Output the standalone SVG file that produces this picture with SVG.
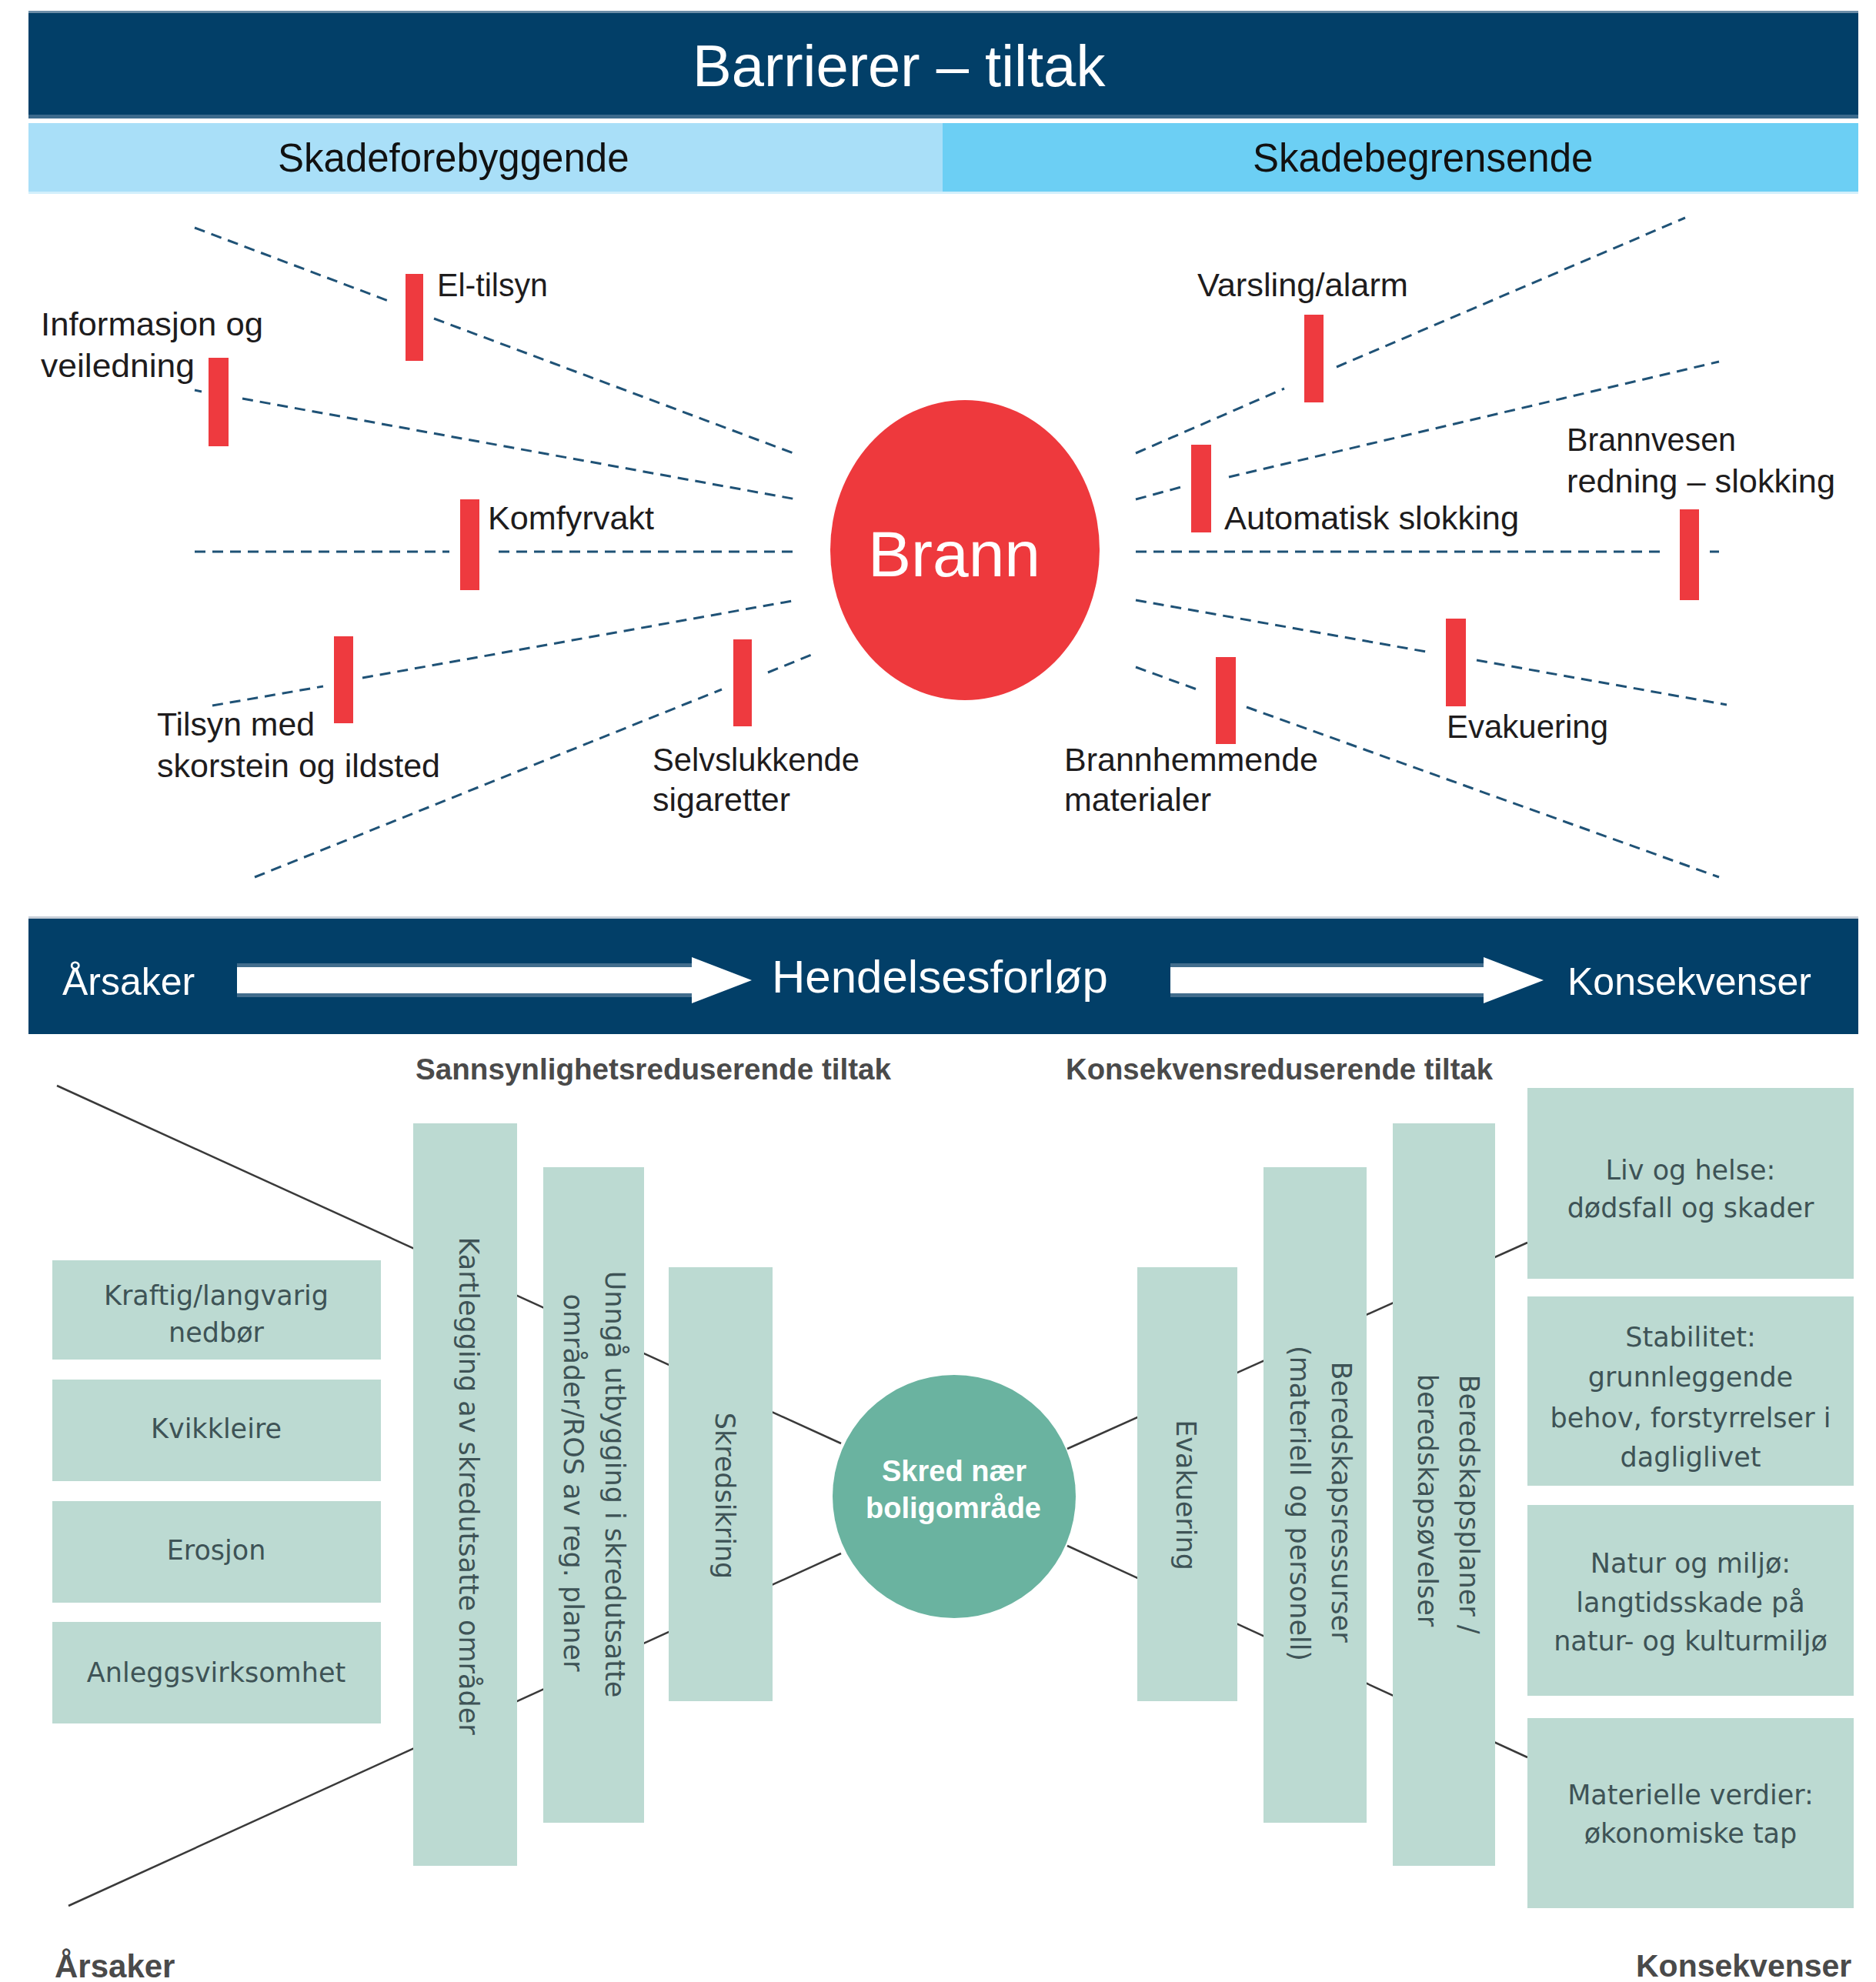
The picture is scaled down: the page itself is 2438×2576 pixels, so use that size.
<svg xmlns="http://www.w3.org/2000/svg" width="2438" height="2576" viewBox="0 0 2438 2576">
<style>
.navy{fill:#023f68}
.bar{fill:#ee3a3f}
.dash{stroke:#1f5276;stroke-width:3;stroke-dasharray:14 9;fill:none}
.lbl{font-family:"Liberation Sans",Arial,sans-serif;font-size:42px;fill:#1e1c1d}
.wt{font-family:"Liberation Sans",Arial,sans-serif;fill:#ffffff}
.hd{font-family:"Liberation Sans",Arial,sans-serif;font-size:51px;fill:#111111}
.box{fill:#bcdad2}
.bt{font-family:"DejaVu Sans",Verdana,sans-serif;font-size:35px;fill:#3e5356;text-anchor:middle}
.gh{font-family:"Liberation Sans",Arial,sans-serif;font-weight:bold;fill:#4a4a4a}
.ln{stroke:#3a3a3a;stroke-width:2.5;fill:none}
.arrow{fill:#ffffff}
.shade{fill:#426d8d}
</style>
<rect width="2438" height="2576" fill="#ffffff"/>

<g id="title">
  <rect class="navy" x="37" y="14" width="2378" height="140"/>
  <rect x="37" y="14" width="2378" height="3" fill="#6d8ea8"/>
  <rect x="37" y="149" width="2378" height="5" fill="#3c6a8c"/>
  <text class="wt" x="900" y="112" font-size="76">Barrierer – tiltak</text>
</g>
<g id="subheader">
  <rect x="37" y="160" width="1188" height="92" fill="#a9dff8"/>
  <rect x="1225" y="160" width="1190" height="92" fill="#6ccff4"/>
  <rect x="37" y="249" width="2378" height="3" fill="#d2effc"/>
  <text class="hd" x="361" y="223">Skadeforebyggende</text>
  <text class="hd" x="1628" y="223">Skadebegrensende</text>
</g>

<g id="fire-connectors">
  <path class="dash" d="M253,296 L510,393"/>
  <path class="dash" d="M564,414 L1031,589"/>
  <path class="dash" d="M253,507 L262,509"/>
  <path class="dash" d="M315,518 L1035,649"/>
  <path class="dash" d="M253,717 L584,717"/>
  <path class="dash" d="M648,717 L1035,717"/>
  <path class="dash" d="M276,917 L420,892"/>
  <path class="dash" d="M471,881 L1035,780"/>
  <path class="dash" d="M331,1140 L938,896"/>
  <path class="dash" d="M998,874 L1057,850"/>
  <path class="dash" d="M1476,589 L1669,505"/>
  <path class="dash" d="M1737,477 L2190,283"/>
  <path class="dash" d="M1476,649 L1535,633"/>
  <path class="dash" d="M1597,620 L2234,470"/>
  <path class="dash" d="M1476,717 L2159,717"/>
  <path class="dash" d="M2222,717 L2234,717"/>
  <path class="dash" d="M1476,780 L1853,847"/>
  <path class="dash" d="M1919,858 L2244,916"/>
  <path class="dash" d="M1476,867 L1558,897"/>
  <path class="dash" d="M1620,919 L2234,1140"/>
</g>

<g id="brann">
  <ellipse cx="1254" cy="715" rx="175" ry="195" fill="#ee393d"/>
  <text class="wt" x="1240" y="749" font-size="84" text-anchor="middle">Brann</text>
</g>

<g id="el-tilsyn">
  <rect class="bar" x="527" y="356" width="23" height="113"/>
  <text class="lbl" x="568" y="385" textLength="144" lengthAdjust="spacingAndGlyphs">El-tilsyn</text>
</g>
<g id="informasjon">
  <rect class="bar" x="271" y="465" width="26" height="115"/>
  <text class="lbl" x="53" y="436" textLength="289" lengthAdjust="spacingAndGlyphs">Informasjon og</text>
  <text class="lbl" x="53" y="490" textLength="200" lengthAdjust="spacingAndGlyphs">veiledning</text>
</g>
<g id="komfyrvakt">
  <rect class="bar" x="598" y="649" width="25" height="118"/>
  <text class="lbl" x="634" y="688" textLength="216" lengthAdjust="spacingAndGlyphs">Komfyrvakt</text>
</g>
<g id="tilsyn">
  <rect class="bar" x="434" y="827" width="25" height="113"/>
  <text class="lbl" x="204" y="956" textLength="205" lengthAdjust="spacingAndGlyphs">Tilsyn med</text>
  <text class="lbl" x="204" y="1010" textLength="368" lengthAdjust="spacingAndGlyphs">skorstein og ildsted</text>
</g>
<g id="selvslukkende">
  <rect class="bar" x="953" y="831" width="24" height="113"/>
  <text class="lbl" x="848" y="1002" textLength="269" lengthAdjust="spacingAndGlyphs">Selvslukkende</text>
  <text class="lbl" x="848" y="1054" textLength="179" lengthAdjust="spacingAndGlyphs">sigaretter</text>
</g>
<g id="varsling">
  <rect class="bar" x="1695" y="409" width="25" height="114"/>
  <text class="lbl" x="1556" y="385" textLength="274" lengthAdjust="spacingAndGlyphs">Varsling/alarm</text>
</g>
<g id="automatisk">
  <rect class="bar" x="1548" y="578" width="26" height="114"/>
  <text class="lbl" x="1591" y="688" textLength="383" lengthAdjust="spacingAndGlyphs">Automatisk slokking</text>
</g>
<g id="brannvesen">
  <rect class="bar" x="2183" y="662" width="25" height="118"/>
  <text class="lbl" x="2036" y="586" textLength="220" lengthAdjust="spacingAndGlyphs">Brannvesen</text>
  <text class="lbl" x="2036" y="640" textLength="349" lengthAdjust="spacingAndGlyphs">redning – slokking</text>
</g>
<g id="evakuering-brann">
  <rect class="bar" x="1879" y="804" width="26" height="114"/>
  <text class="lbl" x="1880" y="959" textLength="210" lengthAdjust="spacingAndGlyphs">Evakuering</text>
</g>
<g id="brannhemmende">
  <rect class="bar" x="1580" y="854" width="26" height="113"/>
  <text class="lbl" x="1383" y="1002" textLength="330" lengthAdjust="spacingAndGlyphs">Brannhemmende</text>
  <text class="lbl" x="1383" y="1054" textLength="191" lengthAdjust="spacingAndGlyphs">materialer</text>
</g>

<g id="band">
  <rect class="navy" x="37" y="1193" width="2378" height="151"/>
  <rect x="37" y="1191" width="2378" height="3" fill="#c6cdd7"/>
  <rect class="shade" x="308" y="1252" width="591" height="5"/>
  <rect class="shade" x="308" y="1291" width="591" height="5"/>
  <polygon class="arrow" points="308,1257 899,1257 899,1244 977,1274 899,1304 899,1291 308,1291"/>
  <rect class="shade" x="1521" y="1252" width="407" height="5"/>
  <rect class="shade" x="1521" y="1291" width="407" height="5"/>
  <polygon class="arrow" points="1521,1257 1928,1257 1928,1244 2006,1274 1928,1304 1928,1291 1521,1291"/>
  <text class="wt" x="81" y="1293" font-size="50">Årsaker</text>
  <text class="wt" x="1003" y="1290" font-size="60">Hendelsesforløp</text>
  <text class="wt" x="2037" y="1293" font-size="50">Konsekvenser</text>
</g>

<g id="headers">
  <text class="gh" x="540" y="1403" font-size="38" textLength="618" lengthAdjust="spacingAndGlyphs">Sannsynlighetsreduserende tiltak</text>
  <text class="gh" x="1385" y="1403" font-size="38" textLength="555" lengthAdjust="spacingAndGlyphs">Konsekvensreduserende tiltak</text>
  <text class="gh" x="71" y="2570" font-size="42">Årsaker</text>
  <text class="gh" x="2126" y="2569" font-size="41">Konsekvenser</text>
</g>

<g id="skred-connectors">
  <path class="ln" d="M74,1411 L1093,1876"/>
  <path class="ln" d="M89,2477 L1093,2019"/>
  <path class="ln" d="M1387,1883 L1985,1615"/>
  <path class="ln" d="M1387,2009 L1985,2284"/>
</g>

<g id="cause-nedbor">
  <rect class="box" x="68" y="1638" width="427" height="129"/>
  <text class="bt" x="281" y="1696">Kraftig/langvarig</text>
  <text class="bt" x="281" y="1744">nedbør</text>
</g>
<g id="cause-kvikkleire">
  <rect class="box" x="68" y="1793" width="427" height="132"/>
  <text class="bt" x="281" y="1869">Kvikkleire</text>
</g>
<g id="cause-erosjon">
  <rect class="box" x="68" y="1951" width="427" height="132"/>
  <text class="bt" x="281" y="2027">Erosjon</text>
</g>
<g id="cause-anlegg">
  <rect class="box" x="68" y="2108" width="427" height="132"/>
  <text class="bt" x="281" y="2186">Anleggsvirksomhet</text>
</g>

<g id="bar-kartlegging">
  <rect class="box" x="537" y="1460" width="135" height="965"/>
  <text class="bt" transform="translate(597,1931) rotate(90)">Kartlegging av skredutsatte områder</text>
</g>
<g id="bar-unnga">
  <rect class="box" x="706" y="1517" width="131" height="852"/>
  <text class="bt" transform="translate(787,1929) rotate(90)">Unngå utbygging i skredutsatte</text>
  <text class="bt" transform="translate(733,1927) rotate(90)">områder/ROS av reg. planer</text>
</g>
<g id="bar-skredsikring">
  <rect class="box" x="869" y="1647" width="135" height="564"/>
  <text class="bt" transform="translate(930,1944) rotate(90)">Skredsikring</text>
</g>

<g id="skred">
  <circle cx="1240" cy="1945" r="158" fill="#6ab3a0"/>
  <text class="wt" x="1240" y="1925" font-size="38" font-weight="bold" text-anchor="middle">Skred nær</text>
  <text class="wt" x="1239" y="1973" font-size="38" font-weight="bold" text-anchor="middle">boligområde</text>
</g>

<g id="bar-evakuering">
  <rect class="box" x="1478" y="1647" width="130" height="564"/>
  <text class="bt" transform="translate(1529,1943) rotate(90)">Evakuering</text>
</g>
<g id="bar-ressurser">
  <rect class="box" x="1642" y="1517" width="134" height="852"/>
  <text class="bt" transform="translate(1731,1952) rotate(90)">Beredskapsressurser</text>
  <text class="bt" transform="translate(1677,1954) rotate(90)">(materiell og personell)</text>
</g>
<g id="bar-planer">
  <rect class="box" x="1810" y="1460" width="133" height="965"/>
  <text class="bt" transform="translate(1897,1955) rotate(90)">Beredskapsplaner /</text>
  <text class="bt" transform="translate(1843,1950) rotate(90)">beredskapsøvelser</text>
</g>

<g id="cons-liv">
  <rect class="box" x="1985" y="1414" width="424" height="248"/>
  <text class="bt" x="2197" y="1533">Liv og helse:</text>
  <text class="bt" x="2197" y="1582">dødsfall og skader</text>
</g>
<g id="cons-stabilitet">
  <rect class="box" x="1985" y="1685" width="424" height="246"/>
  <text class="bt" x="2197" y="1750">Stabilitet:</text>
  <text class="bt" x="2197" y="1802">grunnleggende</text>
  <text class="bt" x="2197" y="1855">behov, forstyrrelser i</text>
  <text class="bt" x="2197" y="1906">dagliglivet</text>
</g>
<g id="cons-natur">
  <rect class="box" x="1985" y="1956" width="424" height="248"/>
  <text class="bt" x="2197" y="2044">Natur og miljø:</text>
  <text class="bt" x="2197" y="2095">langtidsskade på</text>
  <text class="bt" x="2197" y="2145">natur- og kulturmiljø</text>
</g>
<g id="cons-materielle">
  <rect class="box" x="1985" y="2233" width="424" height="247"/>
  <text class="bt" x="2197" y="2345">Materielle verdier:</text>
  <text class="bt" x="2197" y="2395">økonomiske tap</text>
</g>
</svg>
